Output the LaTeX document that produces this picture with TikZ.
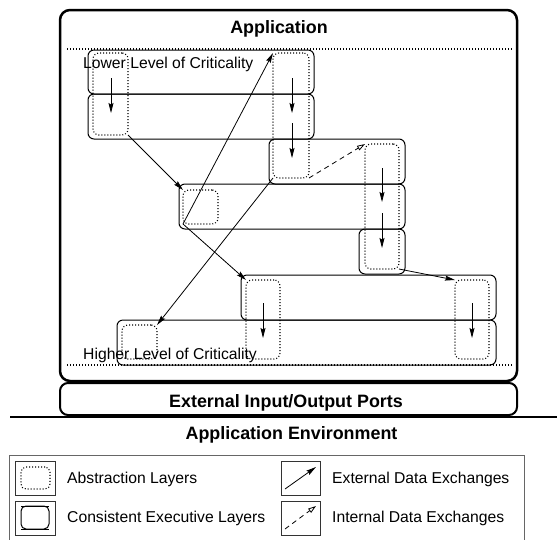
\documentclass[tikz,border=0pt]{standalone}
\usepackage{fontspec}
\setmainfont{Liberation Sans}
\usetikzlibrary{arrows.meta}
\begin{document}
\begin{tikzpicture}[x=1pt,y=-1pt,
  layerbox/.style={draw=black, rounded corners=6pt, line width=1pt, inner sep=0pt, outer sep=0pt},
  absbox/.style={draw, rounded corners=6pt, line width=1.1pt, dash pattern=on 1pt off 2pt, inner sep=0pt, outer sep=0pt},
  extarrow/.style={line width=0.8pt, -{Stealth[length=10pt,width=5pt,inset=1.5pt]}},
  intarrow/.style={line width=0.8pt, dash pattern=on 5pt off 4pt, -{Triangle[open,length=8pt,width=5pt]}},
  txt/.style={font=\fontsize{15.7}{18}\selectfont, inner sep=0pt},
  ttl/.style={font=\bfseries\fontsize{17.9}{20}\selectfont, inner sep=0pt},
  critline/.style={line width=1.1pt, dash pattern=on 1pt off 2pt},
  iconbox/.style={draw=black!80, line width=0.8pt, minimum height=34pt, inner sep=0pt, outer sep=0pt},
]
\useasboundingbox (0,0) rectangle (557,539);
\clip (0,0) rectangle (557,539);

% application box
\node[draw, line width=2.5pt, rounded corners=10pt, minimum width=457pt, minimum height=371pt, inner sep=0pt, outer sep=0pt] (app) at (288.5,195.5) {};
\node[ttl, anchor=base] (apptitle) at (279,33.4) {Application};

% criticality limits
\coordinate (ctl) at (67,49); \coordinate (ctr) at (513,49);
\coordinate (cbl) at (67,365); \coordinate (cbr) at (513,365);
\draw[critline] (ctl) -- (ctr);
\draw[critline] (cbl) -- (cbr);

% consistent executive layers
\node[layerbox, minimum width=226pt, minimum height=44pt] (la) at (201,72) {};
\node[layerbox, minimum width=226pt, minimum height=45pt] (lb) at (201,116.5) {};
\node[layerbox, minimum width=136pt, minimum height=45pt] (lc) at (337,161.5) {};
\node[layerbox, minimum width=226pt, minimum height=45pt] (ld) at (292,206.5) {};
\node[layerbox, minimum width=46pt, minimum height=45pt] (le) at (382,251.5) {};
\node[layerbox, minimum width=255pt, minimum height=45pt] (lf) at (368.5,297.5) {};
\node[layerbox, minimum width=379pt, minimum height=45pt] (lg) at (306.5,342.5) {};

% abstraction layers
\node[absbox, minimum width=35pt, minimum height=82pt] (a1) at (110.5,94) {};
\node[absbox, minimum width=36pt, minimum height=125pt] (a2) at (291,115.5) {};
\node[absbox, minimum width=35pt, minimum height=34pt] (a3) at (200.5,207) {};
\node[absbox, minimum width=34pt, minimum height=125pt] (a4) at (382,206.5) {};
\node[absbox, minimum width=34pt, minimum height=79pt] (a5) at (263,319.5) {};
\node[absbox, minimum width=34pt, minimum height=79pt] (a6) at (472,319.5) {};
\node[absbox, minimum width=35pt, minimum height=34pt] (a7) at (139.5,342) {};

% vertical flows
\coordinate (v1s) at (111,78);  \coordinate (v1e) at (111,113);
\coordinate (v2s) at (292,78);  \coordinate (v2e) at (292,113);
\coordinate (v3s) at (292,123); \coordinate (v3e) at (292,158);
\coordinate (v4s) at (382,168); \coordinate (v4e) at (382,202);
\coordinate (v5s) at (382,213); \coordinate (v5e) at (382,248);
\coordinate (v6s) at (263,303); \coordinate (v6e) at (263,338);
\coordinate (v7s) at (472,303); \coordinate (v7e) at (472,338);
\foreach \i in {1,...,7} \draw[extarrow] (v\i s) -- (v\i e);

% data exchanges
\draw[extarrow] (a1.south east) -- (a3.north west);
\draw[extarrow] (a3.south west) -- (a2.north west);
\draw[extarrow] (a3.south west) -- (a5.north west);
\draw[extarrow] (a2.south west) -- (a7.north east);
\draw[extarrow] (a4.south east) -- (a6.north west);
\draw[intarrow] (a2.south east) -- (a4.north west);

% criticality labels
\node[txt, anchor=base west] (lowtxt) at (83,68) {Lower Level of Criticality};
\node[txt, anchor=base west] (hightxt) at (83,359) {Higher Level of Criticality};

% ports
\node[draw, line width=2pt, rounded corners=8pt, minimum width=457pt, minimum height=32pt, inner sep=0pt, outer sep=0pt] (ports) at (288.5,399) {};
\node[ttl, anchor=base] (portstxt) at (286,407.7) {External Input/Output Ports};

% environment
\coordinate (envl) at (10,417); \coordinate (envr) at (557,417);
\draw[line width=1.5pt] (envl) -- (envr);
\node[ttl, anchor=base] (envtxt) at (291.5,439.4) {Application Environment};

% legend
\node[draw=black!60, line width=0.8pt, minimum width=515pt, minimum height=110pt, anchor=north west, inner sep=0pt] (legend) at (9,455) {};
\node[iconbox, minimum width=40pt] (ic1) at (35,478) {};
\node[iconbox, minimum width=40pt] (ic2) at (35,518) {};
\node[iconbox, minimum width=39pt] (ic3) at (300.5,478) {};
\node[iconbox, minimum width=39pt] (ic4) at (300.5,518) {};
\node[absbox, rounded corners=5pt, minimum width=29pt, minimum height=22pt] (ic1in) at (35.5,478) {};
\node[layerbox, rounded corners=5pt, minimum width=28pt, minimum height=23pt] (ic2in) at (35,517.5) {};
\draw[line width=1pt] (ic2in.north west) -- (ic2in.north east) (ic2in.south west) -- (ic2in.south east);
\coordinate (ic3a) at (285,489); \coordinate (ic3b) at (316,467);
\draw[extarrow] (ic3a) -- (ic3b);
\coordinate (ic4a) at (285,529); \coordinate (ic4b) at (316,506);
\draw[intarrow] (ic4a) -- (ic4b);
\node[txt, anchor=base west] (t1) at (67,483) {Abstraction Layers};
\node[txt, anchor=base west] (t2) at (67,522) {Consistent Executive Layers};
\node[txt, anchor=base west] (t3) at (332,483) {External Data Exchanges};
\node[txt, anchor=base west] (t4) at (332,522) {Internal Data Exchanges};
\end{tikzpicture}
\end{document}
